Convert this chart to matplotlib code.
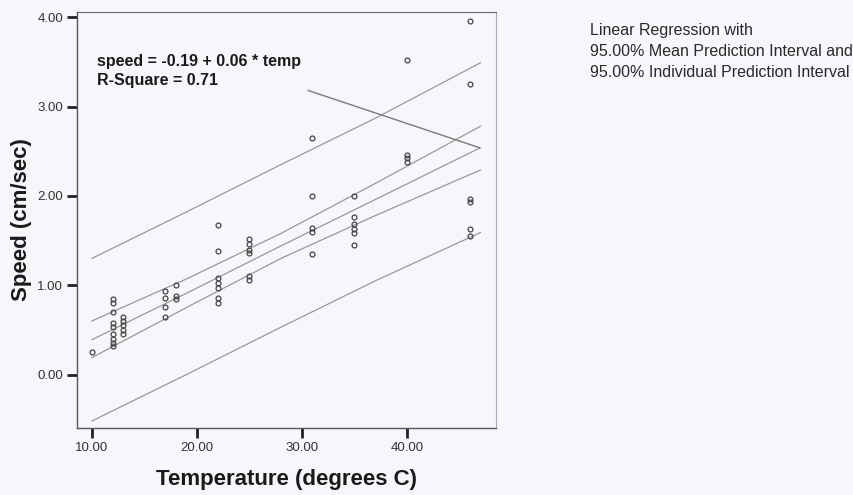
import matplotlib.pyplot as plt

temp = [10,
        12, 12, 12, 12, 12, 12, 12, 12, 12,
        13, 13, 13, 13, 13,
        17, 17, 17, 17,
        18, 18, 18,
        22, 22, 22, 22, 22, 22, 22,
        25, 25, 25, 25, 25, 25,
        31, 31, 31, 31, 31,
        35, 35, 35, 35, 35, 35,
        40, 40, 40, 40,
        46, 46, 46, 46, 46, 46]
speed = [0.25,
         0.85, 0.80, 0.70, 0.58, 0.53, 0.45, 0.40, 0.35, 0.32,
         0.65, 0.60, 0.55, 0.50, 0.45,
         0.94, 0.86, 0.76, 0.65,
         1.00, 0.88, 0.85,
         1.67, 1.38, 1.08, 1.02, 0.97, 0.86, 0.80,
         1.52, 1.46, 1.40, 1.36, 1.10, 1.06,
         2.65, 2.00, 1.64, 1.60, 1.35,
         2.00, 1.76, 1.69, 1.63, 1.58, 1.45,
         3.52, 2.46, 2.42, 2.38,
         3.96, 3.25, 1.97, 1.93, 1.63, 1.55]

# fitted line and intervals at a few temperatures
line_temp = [10, 19, 28, 37, 47]
fit = [0.39, 0.91, 1.44, 1.96, 2.54]
mean_upper = [0.60, 1.07, 1.58, 2.14, 2.78]
mean_lower = [0.19, 0.75, 1.30, 1.78, 2.29]
indiv_upper = [1.30, 1.82, 2.35, 2.87, 3.49]
indiv_lower = [-0.52, 0.00, 0.53, 1.05, 1.59]

# stray leader line from the original output
leader_temp = [30.6, 46.9]
leader_speed = [3.18, 2.54]

xticks = [10, 20, 30, 40]
yticks = [0, 1, 2, 3, 4]

equation = 'speed = -0.19 + 0.06 * temp'
rsquare = 'R-Square = 0.71'
legend_lines = ['Linear Regression with',
                '95.00% Mean Prediction Interval and',
                '95.00% Individual Prediction Interval']


def main():
    plt.rcParams['font.family'] = ['Liberation Sans', 'DejaVu Sans']
    bg = '#f5f7fa'
    fig = plt.figure(figsize=(8.54, 4.95), dpi=100, facecolor=bg)
    ax = fig.add_axes([0.090, 0.135, 0.491, 0.841], facecolor=bg)

    for ys in (indiv_upper, mean_upper, fit, mean_lower, indiv_lower):
        ax.plot(line_temp, ys, color='#999999', lw=0.9)
    ax.plot(leader_temp, leader_speed, color='#7a7a7a', lw=1.0)
    ax.plot(temp, speed, 'o', ms=3.5, mfc='none', mec='#444444', mew=0.9)

    ax.set_xlim(8.57, 48.5)
    ax.set_ylim(-0.6, 4.06)
    ax.set_xticks(xticks)
    ax.set_xticklabels([f'{t:.2f}' for t in xticks])
    ax.set_yticks(yticks)
    ax.set_yticklabels([f'{t:.2f}' for t in yticks])
    ax.tick_params(direction='out', length=7, width=2, color='#222222',
                   labelsize=9.5, labelcolor='#333333', pad=3)

    for side in ('left', 'bottom'):
        ax.spines[side].set_color('#555555')
        ax.spines[side].set_linewidth(1.0)
    ax.spines['top'].set_color('#666666')
    ax.spines['right'].set_color('#aaaaaa')

    ax.set_xlabel('Temperature (degrees C)', fontsize=16, fontweight='bold',
                  color='#1a1a1a', labelpad=11)
    ax.set_ylabel('Speed (cm/sec)', fontsize=16, fontweight='bold',
                  color='#1a1a1a', labelpad=4)

    ax.text(0.048, 0.882, equation, transform=ax.transAxes, fontsize=11.5,
            fontweight='bold', color='#1a1a1a', va='center')
    ax.text(0.048, 0.834, rsquare, transform=ax.transAxes, fontsize=11.5,
            fontweight='bold', color='#1a1a1a', va='center')

    for i, line in enumerate(legend_lines):
        fig.text(0.691, 0.939 - i * 0.043, line, fontsize=11.5,
                 color='#2a2a2a', va='center')

    fig.savefig('out.png', dpi=100, facecolor=bg)


if __name__ == '__main__':
    main()
